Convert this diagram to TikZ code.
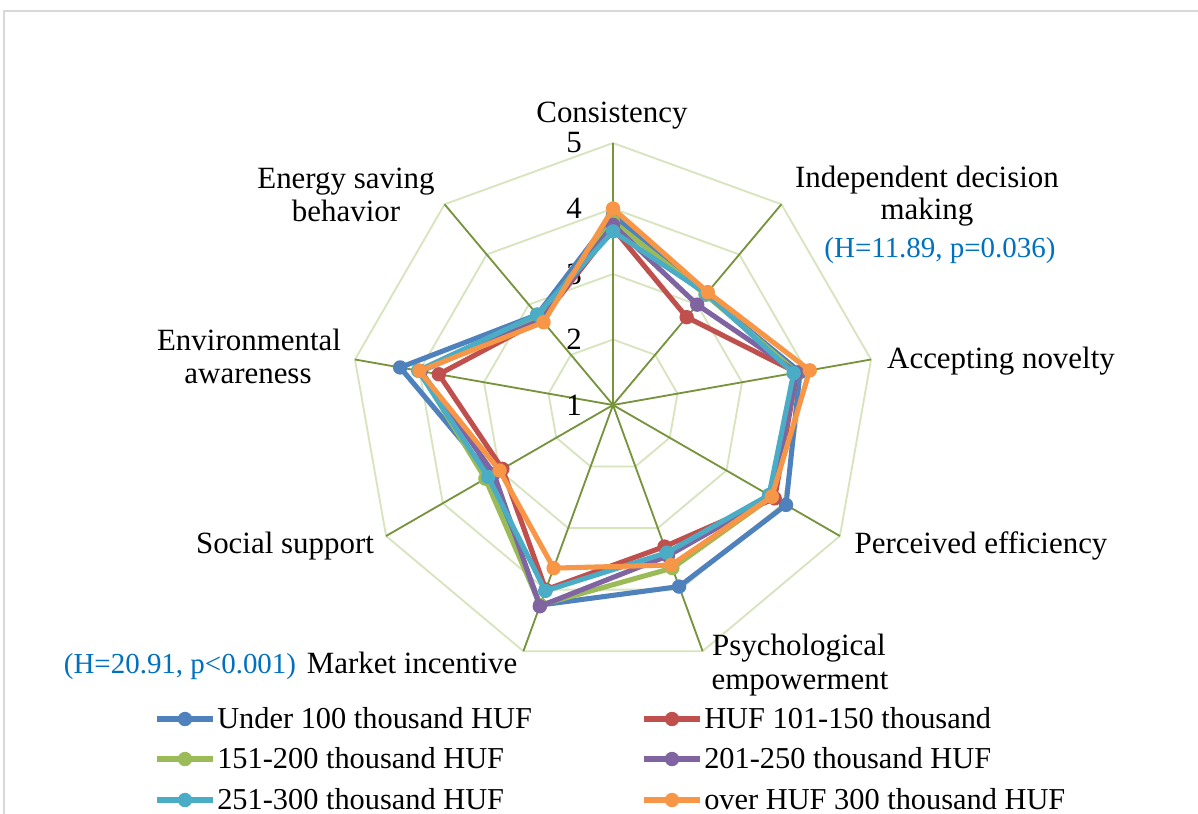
\documentclass[tikz,border=0pt]{standalone}
\usepackage{fontspec}
\setmainfont{Liberation Serif}
\usetikzlibrary{calc}
\definecolor{incA}{HTML}{4F81BD}
\definecolor{incB}{HTML}{C0504D}
\definecolor{incC}{HTML}{9BBB59}
\definecolor{incD}{HTML}{8064A2}
\definecolor{incE}{HTML}{4BACC6}
\definecolor{incF}{HTML}{F79646}
\definecolor{gridring}{HTML}{D7E4BD}
\definecolor{gridaxis}{HTML}{77933C}
\definecolor{statblue}{HTML}{0070C0}
\definecolor{framegray}{HTML}{D9D9D9}

\begin{document}
\begin{tikzpicture}[x=0.025cm,y=-0.025cm,
    ring/.style={gridring,line width=1.3pt},
    spoke/.style={gridaxis,line width=1.3pt},
    series/.style={#1,line width=3.6pt,line join=round},
    lab/.style={anchor=base,inner sep=0pt,font=\fontsize{22}{24}\selectfont},
    statlab/.style={anchor=base,inner sep=0pt,text=statblue,font=\fontsize{20.6}{22}\selectfont},
    key/.style={anchor=base west,inner sep=0pt,font=\fontsize{21.6}{24}\selectfont}]
  \useasboundingbox (0,0) rectangle (1198,814);
  \fill[white] (0,0) rectangle (1198,814);
  \draw[framegray,line width=0.8pt] (4,11) rectangle (1260,880);

  \begin{scope}[shift={(613,405)}]
    % rings and spokes
    \foreach \v in {2,...,5}
      \draw[ring] (-90:{(\v-1)*65.5}) \foreach \k in {1,...,8} {-- ({40*\k-90}:{(\v-1)*65.5})} -- cycle;
    \foreach \k in {0,...,8}
      \draw[spoke] (0,0) -- ({40*\k-90}:262);
    \foreach \v in {1,...,5}
      \node[anchor=east,inner sep=0pt,font=\fontsize{22}{24}\selectfont] (tick\v) at (-31,{-(\v-1)*65.5}) {\v};

    % one polygon per income group
    \foreach \col/\vals in {
        incA/{3.9,3.2,3.9,4.05,3.95,4.25,3.15,4.3,2.8},
        incB/{3.7,2.75,3.85,3.85,3.3,4.0,2.95,3.7,2.7},
        incC/{3.8,3.2,3.85,3.8,3.65,4.25,3.25,4.0,2.75},
        incD/{3.75,3.0,3.85,3.8,3.45,4.27,3.1,3.98,2.7},
        incE/{3.65,3.22,3.8,3.75,3.4,4.02,3.2,4.02,2.8},
        incF/{4.0,3.25,4.05,3.8,3.6,3.65,3.0,4.0,2.65}} {
      \foreach \v [count=\k from 0] in \vals
        \coordinate (p\k) at ({40*\k-90}:{(\v-1)*65.5});
      \draw[series=\col] (p0) -- (p1) -- (p2) -- (p3) -- (p4) -- (p5) -- (p6) -- (p7) -- (p8) -- cycle;
      \foreach \k in {0,...,8}
        \fill[\col] (p\k) circle (0.18cm);
    }
  \end{scope}

  % axis labels
  \node[lab] (consist) at (612,123) {Consistency};
  \node[lab] (indepA) at (927,188) {Independent decision};
  \node[lab] (indepB) at (927,220) {making};
  \node[statlab] (indepH) at (940,258) {(H=11.89, p=0.036)};
  \node[lab] (novelty) at (1001,368) {Accepting novelty};
  \node[lab] (effic) at (981,553) {Perceived efficiency};
  \node[lab] (psychA) at (799,655) {Psychological};
  \node[lab] (psychB) at (800,689) {empowerment};
  \node[lab] (market) at (412,673) {Market incentive};
  \node[statlab] (marketH) at (180,673) {(H=20.91, p<0.001)};
  \node[lab] (social) at (285,553) {Social support};
  \node[lab] (envA) at (249,350) {Environmental};
  \node[lab] (envB) at (248,383) {awareness};
  \node[lab] (energyA) at (346,189) {Energy saving};
  \node[lab] (energyB) at (346,222) {behavior};

  % legend
  \foreach \col/\x/\y/\txt in {
      incA/157/719/Under 100 thousand HUF,
      incB/644/719/HUF 101-150 thousand,
      incC/157/759/151-200 thousand HUF,
      incD/644/759/201-250 thousand HUF,
      incE/157/800/251-300 thousand HUF,
      incF/644/800/over HUF 300 thousand HUF} {
    \draw[series=\col] (\x,\y) -- ++(56,0);
    \fill[\col] (\x+28,\y) circle (0.18cm);
    \node[key] (key\col) at (\x+60,\y+9) {\txt};
  }
\end{tikzpicture}
\end{document}
